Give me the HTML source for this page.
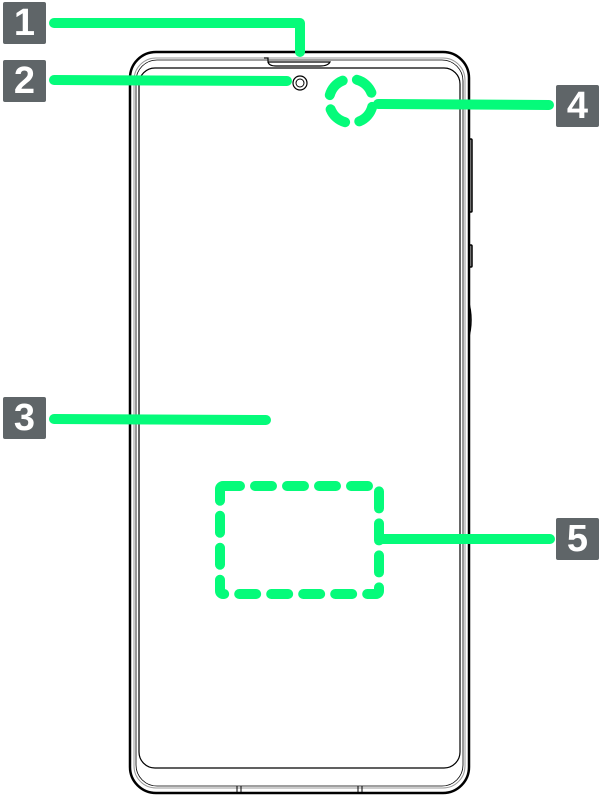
<!DOCTYPE html>
<html><head><meta charset="utf-8"><style>
html,body{margin:0;padding:0;background:#fff;}
.lb{position:absolute;width:43px;height:42px;background:#5f6568;color:#fff;font:bold 38px "Liberation Sans",sans-serif;text-align:center;line-height:42px;border-radius:2px;}
</style></head><body>
<div style="position:relative;width:600px;height:796px;overflow:hidden">
<svg width="600" height="796" style="position:absolute;left:0;top:0">
<rect x="467" y="139" width="5" height="73" rx="1" fill="#999" stroke="#000" stroke-width="1.5"/>
<rect x="467" y="245" width="5" height="22" rx="1" fill="#999" stroke="#000" stroke-width="1.5"/>
<path d="M468 300 Q474 320 468 340" fill="#999" stroke="#000" stroke-width="1.5"/>
<rect x="130" y="52" width="339" height="741" rx="26" fill="#fff" stroke="#000" stroke-width="2.5"/>
<rect x="134" y="58" width="331" height="730" rx="22" fill="none" stroke="#999" stroke-width="1"/>
<rect x="136" y="60" width="327" height="726" rx="21" fill="none" stroke="#000" stroke-width="0.8"/>
<rect x="139" y="68" width="321" height="700" rx="16" fill="none" stroke="#000" stroke-width="1.2"/>
<path d="M264 58 H268 V62 H330 Q328 66 320 66 H276 Q269 66 268 62" fill="none" stroke="#000" stroke-width="1.2"/>
<line x1="237" y1="786" x2="237" y2="793" stroke="#000" stroke-width="1"/>
<line x1="241" y1="786" x2="241" y2="793" stroke="#000" stroke-width="1"/>
<line x1="358" y1="786" x2="358" y2="793" stroke="#000" stroke-width="1"/>
<line x1="362" y1="786" x2="362" y2="793" stroke="#000" stroke-width="1"/>
<circle cx="300" cy="83" r="7" fill="#fff" stroke="#000" stroke-width="1.2"/>
<circle cx="300" cy="83" r="4" fill="none" stroke="#000" stroke-width="1"/>
<g stroke="#05fb7a" stroke-width="10" stroke-linecap="round" fill="none">
<path d="M54 23 H300 V52" stroke-linejoin="round"/>
<line x1="54" y1="80" x2="287" y2="81"/>
<line x1="54" y1="419" x2="266" y2="420"/>
<line x1="378" y1="104" x2="549" y2="105"/>
<line x1="383" y1="539" x2="550" y2="539"/>
<circle cx="351" cy="101" r="22" stroke-dasharray="20 14.5" stroke-dashoffset="-6"/>
<rect x="220" y="486" width="159" height="108" rx="3" stroke-dasharray="17 15"/>
</g>
</svg>
<div class="lb" style="left:3px;top:2px">1</div>
<div class="lb" style="left:3px;top:60px">2</div>
<div class="lb" style="left:3px;top:397px">3</div>
<div class="lb" style="left:556px;top:85px">4</div>
<div class="lb" style="left:556px;top:518px">5</div>
</div>
</body></html>
